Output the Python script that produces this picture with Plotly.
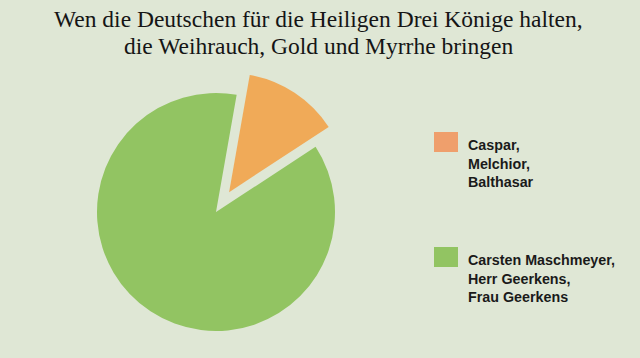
import plotly.graph_objects as go

labels = ["Caspar,<br>Melchior,<br>Balthasar", "Carsten Maschmeyer,<br>Herr Geerkens,<br>Frau Geerkens"]
values = [13, 87]
colors = ["#f0aa58", "#92c462"]
legend_colors = ["#ef9f6c", "#92c462"]
pulls = [0.2, 0]
title_lines = ["Wen die Deutschen für die Heiligen Drei Könige halten,",
               "die Weihrauch, Gold und Myrrhe bringen"]

W, H = 640, 358
bg = "#dfe7d5"

fig = go.Figure()
fig.add_trace(go.Pie(
    labels=labels, values=values, sort=False, direction="clockwise",
    rotation=10, pull=pulls, textinfo="none", hoverinfo="label+percent",
    marker=dict(colors=colors, line=dict(width=0)),
    domain=dict(x=[73.2 / W, 358.8 / W], y=[1 - 354.8 / H, 1 - 69.2 / H]),
    showlegend=False,
))

# title (two lines placed individually)
title_mid = [19, 46]
for line, ym in zip(title_lines, title_mid):
    fig.add_annotation(text=line, x=318 / W, y=1 - ym / H,
                       xref="paper", yref="paper", xanchor="center", yanchor="middle",
                       showarrow=False,
                       font=dict(family="Liberation Serif", size=23.5, color="#151515"))

# legend
leg_y = [132, 247]
for i, lab in enumerate(labels):
    y0 = leg_y[i]
    fig.add_shape(type="rect", xref="paper", yref="paper",
                  x0=434 / W, x1=458 / W, y0=1 - (y0 + 20) / H, y1=1 - y0 / H,
                  fillcolor=legend_colors[i], line=dict(width=0))
    fig.add_annotation(text="<b>" + lab + "</b>", x=466 / W, y=1 - (y0 + 3) / H,
                       xref="paper", yref="paper", xanchor="left", yanchor="top",
                       showarrow=False, align="left",
                       font=dict(family="Liberation Sans", size=14.3, color="#1a1a1a"))

fig.update_layout(width=W, height=H, margin=dict(l=0, r=0, t=0, b=0),
                  paper_bgcolor=bg, plot_bgcolor=bg)
fig.write_html("out.html", config={"displayModeBar": False},
               post_script="document.body.style.margin='0';")
